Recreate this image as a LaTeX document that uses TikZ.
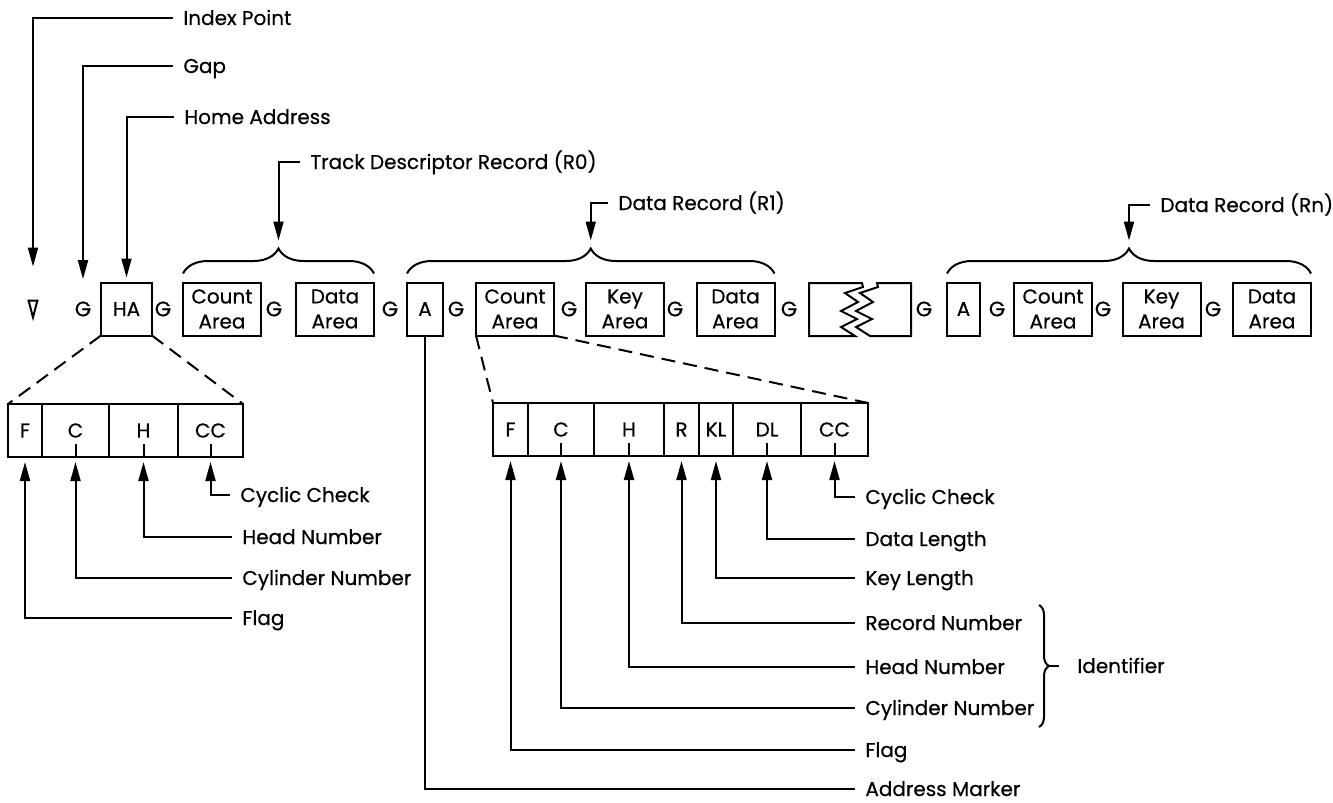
\documentclass[tikz,border=0pt]{standalone}
\usepackage{fontspec}
\setmainfont{Poppins}[FakeBold=0.5]
\usetikzlibrary{arrows.meta,positioning,calc,decorations.pathreplacing}

\tikzset{
  wire/.style={line width=1pt},
  ptr/.style={wire, -{Triangle[length=9.5pt,width=5pt]}},
  dashlink/.style={wire, dash pattern=on 7pt off 4pt},
  fld/.style={draw, line width=1pt, minimum height=26.5pt, inner sep=0pt, outer sep=0pt,
    align=center, font=\fontsize{10}{12.5}\selectfont},
  cell/.style={draw, line width=1pt, minimum height=26.5pt, inner sep=0pt, outer sep=0pt,
    font=\fontsize{10}{12}\selectfont},
  gapG/.style={inner sep=0pt, font=\fontsize{10.5}{12}\selectfont},
  lbl/.style={anchor=west, inner xsep=5pt, inner ysep=0pt, text height=7pt, text depth=0pt,
    font=\fontsize{10}{12}\selectfont},
  grp/.style={wire, decorate, decoration={brace, amplitude=12.5pt, aspect=0.5}},
  idgrp/.style={wire, decorate, decoration={brace, amplitude=5pt, aspect=0.5}},
}

\begin{document}
\begin{tikzpicture}[x=0.5pt, y=-0.5pt]
  \useasboundingbox (0,0) rectangle (1333,803);

  % --- track row ---
  \node[minimum width=4pt, minimum height=8pt, inner sep=0pt] (idx) at (33,309) {};
  \draw[wire, line join=miter] (idx.north west) -- (idx.north east) -- (idx.south) -- cycle;

  \foreach \nm/\x in {g0/83, g1/163, g2/274, g3/390, g4/456, g5/569, g6/675,
                      g7/789, g8/924, g9/997, g10/1103, g11/1213} {
    \node[gapG] (\nm) at (\x,309) {G};
  }

  \node[fld, minimum width=25.5pt] (ha) at (126.5,309) {HA};
  \node[fld, minimum width=18pt] (am1) at (425,309) {A};
  \node[fld, minimum width=16.5pt] (am2) at (963.5,309) {A};
  \foreach \nm/\x/\t in {cnt0/222/Count, dat0/335/Data, cnt1/515/Count, key1/625/Key,
                         dat1/735.5/Data, cnt2/1053/Count, key2/1161.5/Key, dat2/1272/Data} {
    \node[fld, minimum width=39pt] (\nm) at (\x,309) {\t\\Area};
  }

  % broken track piece
  \draw[wire, line join=miter] (862,283) -- (809,283) -- (809,336) -- (855,336) -- (841,327)
    -- (857,319) -- (841,311) -- (858,302) -- (845,293) -- (863,287) -- cycle;
  \draw[wire, line join=miter] (877,283) -- (911,283) -- (911,336) -- (870,336) -- (856,327)
    -- (872,319) -- (856,311) -- (873,302) -- (860,293) -- (878,287) -- cycle;

  % record braces
  \draw[grp] ([yshift=4.5pt]cnt0.north west) -- ([yshift=4.5pt]dat0.north east);
  \draw[grp] ([yshift=4.5pt]am1.north west) -- ([yshift=4.5pt]dat1.north east);
  \draw[grp] ([yshift=4.5pt]am2.north west) -- ([yshift=4.5pt]dat2.north east);
  \coordinate (t0) at ($(cnt0.north west)!0.5!(dat0.north east)+(0,-34)$);
  \coordinate (t1) at ($(am1.north west)!0.5!(dat1.north east)+(0,-34)$);
  \coordinate (t2) at ($(am2.north west)!0.5!(dat2.north east)+(0,-34)$);

  % top labels
  \node[lbl] (lIndex) at (173,18) {Index Point};
  \node[lbl] (lGap) at (173,66) {Gap};
  \node[lbl] (lHome) at (174,117) {Home Address};
  \node[lbl] (lTrack) at (300,162) {Track Descriptor Record (R0)};
  \node[lbl] (lR1) at (608,203) {Data Record (R1)};
  \node[lbl] (lRn) at (1150,205) {Data Record (Rn)};

  \draw[ptr, shorten >=17pt] (lIndex.west) -| (idx.north);
  \draw[ptr, shorten >=11pt] (lGap.west) -| (g0.north);
  \draw[ptr, shorten >=2.5pt] (lHome.west) -| (ha.north);
  \draw[ptr, shorten >=4pt] (lTrack.west) -| (t0);
  \draw[ptr, shorten >=4pt] (lR1.west) -| (t1);
  \draw[ptr, shorten >=4pt] (lRn.west) -| (t2);

  % --- home address fields ---
  \node[cell, minimum width=17pt] (hF) at (25,430.5) {F};
  \node[cell, minimum width=33.5pt, right=0pt of hF] (hC) {C};
  \node[cell, minimum width=34.5pt, right=0pt of hC] (hH) {H};
  \node[cell, minimum width=32.5pt, right=0pt of hH] (hCC) {CC};
  \draw[dashlink] (ha.south west) -- (hF.north west);
  \draw[dashlink] (ha.south east) -- (hCC.north east);

  \node[lbl] (hlCC) at (230,495) {Cyclic Check};
  \node[lbl] (hlH) at (232,537) {Head Number};
  \node[lbl] (hlC) at (232,578) {Cylinder Number};
  \node[lbl] (hlF) at (232,618) {Flag};

  % --- count area fields ---
  \node[cell, minimum width=17.5pt] (cF) at (510.5,429.5) {F};
  \node[cell, minimum width=33pt, right=0pt of cF] (cC) {C};
  \node[cell, minimum width=35pt, right=0pt of cC] (cH) {H};
  \node[cell, minimum width=17.5pt, right=0pt of cH] (cR) {R};
  \node[cell, minimum width=17pt, right=0pt of cR] (cKL) {KL};
  \node[cell, minimum width=34pt, right=0pt of cKL] (cDL) {DL};
  \node[cell, minimum width=33.5pt, right=0pt of cDL] (cCC) {CC};
  \draw[dashlink] (cnt1.south west) -- (cF.north west);
  \draw[dashlink] (cnt1.south east) -- (cCC.north east);

  \node[lbl] (clCC) at (855,497) {Cyclic Check};
  \node[lbl] (clDL) at (855,539) {Data Length};
  \node[lbl] (clKL) at (855,578) {Key Length};
  \node[lbl] (clR) at (855,623) {Record Number};
  \node[lbl] (clH) at (855,667) {Head Number};
  \node[lbl] (clC) at (855,708) {Cylinder Number};
  \node[lbl] (clF) at (855,750) {Flag};
  \node[lbl] (clAM) at (855,789) {Address Marker};

  % ticks and pointers
  \foreach \c in {hC, hH, hCC, cC, cH, cDL, cCC} {
    \draw[wire] (\c.south) -- ([yshift=6.5pt]\c.south);
  }
  \foreach \c/\l in {hCC/hlCC, hH/hlH, hC/hlC, hF/hlF,
                     cCC/clCC, cDL/clDL, cKL/clKL, cR/clR, cH/clH, cC/clC, cF/clF} {
    \draw[ptr, shorten >=2.5pt] (\l.west) -| (\c.south);
  }
  \draw[wire] (clAM.west) -| (am1.south);

  % identifier
  \draw[idgrp] (1039,605) -- (1039,727) coordinate[midway, xshift=5pt] (idb);
  \node[lbl] (lId) at (1067,666) {Identifier};
  \draw[wire] (idb) -- ([xshift=-4pt]lId.west);
\end{tikzpicture}
\end{document}
